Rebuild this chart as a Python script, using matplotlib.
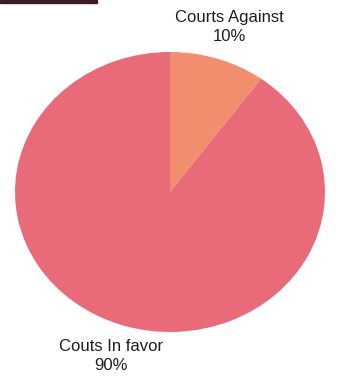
import matplotlib
matplotlib.use("Agg")
import matplotlib.pyplot as plt
from matplotlib.patches import Rectangle

# data
labels = ["Courts Against", "Couts In favor"]
shares = [10, 90]
colors = ["#F28D6E", "#E96B79"]

W, H = 337, 377
fig = plt.figure(figsize=(W / 100, H / 100), dpi=100)

# pie is a bit squashed in the reference, so use an auto-aspect axes
ax = fig.add_axes([15 / W, (H - 332) / H, 310 / W, 280 / H])
ax.pie(shares, colors=colors, startangle=90, counterclock=False,
       wedgeprops=dict(linewidth=0))
ax.set_xlim(-1, 1)
ax.set_ylim(-1, 1)
ax.set_aspect("auto")
ax.axis("off")

# labels
fig.text(229 / W, 1 - 27 / H, f"{labels[0]}\n{shares[0]}%", ha="center",
         va="center", fontsize=12, family="Liberation Sans",
         color="#1E1E1E", linespacing=1.3)
fig.text(111 / W, 1 - 356 / H, f"{labels[1]}\n{shares[1]}%", ha="center",
         va="center", fontsize=12, family="Liberation Sans",
         color="#1E1E1E", linespacing=1.3)

# dark strip at the top left of the original screenshot
fig.patches.append(Rectangle((0, 1 - 3 / H), 97 / W, 3 / H,
                             transform=fig.transFigure, color="#3B1C25"))

fig.savefig("out.png", dpi=100)
